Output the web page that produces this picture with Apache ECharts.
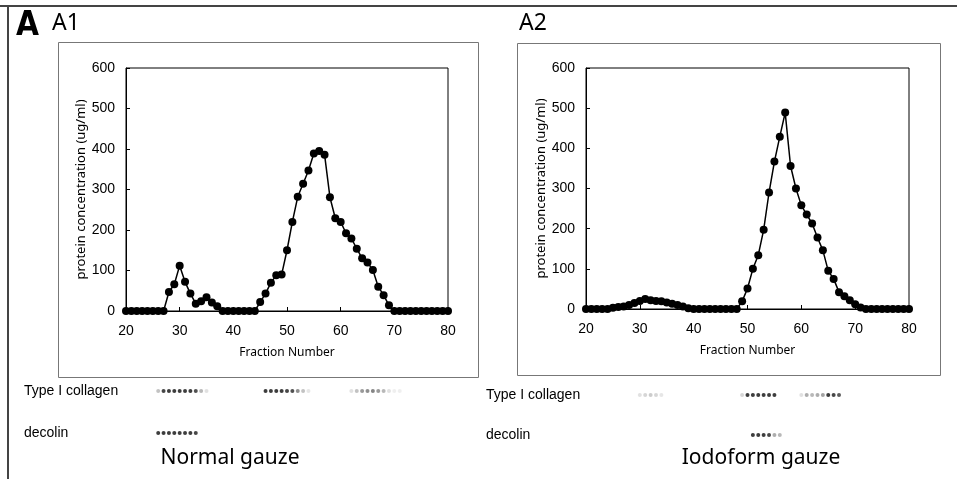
<!DOCTYPE html>
<html>
<head>
<meta charset="utf-8">
<title>Fraction chart</title>
<script src="https://cdn.jsdelivr.net/npm/echarts@6/dist/echarts.min.js"></script>
<style>
    html, body {
        margin: 0;
        padding: 0;
        background: #ffffff;
    }
    #chart {
        width: 958px;
        height: 479px;
    }
</style>
</head>
<body>
<div id="chart"></div>
<script>
    // fraction numbers on the x axis
    const fractions = [20, 21, 22, 23, 24, 25, 26, 27, 28, 29, 30, 31, 32, 33, 34, 35, 36, 37, 38, 39, 40,
        41, 42, 43, 44, 45, 46, 47, 48, 49, 50, 51, 52, 53, 54, 55, 56, 57, 58, 59, 60,
        61, 62, 63, 64, 65, 66, 67, 68, 69, 70, 71, 72, 73, 74, 75, 76, 77, 78, 79, 80]

    // A1 - normal gauze, protein concentration (ug/ml)
    const normalGauze = [0, 0, 0, 0, 0, 0, 0, 0, 47, 66, 112, 72, 43, 18, 24, 34, 21, 12, 0, 0, 0,
        0, 0, 0, 0, 22, 43, 70, 88, 90, 150, 220, 282, 314, 347, 389, 395, 386, 281, 229, 220,
        192, 179, 154, 130, 120, 101, 60, 39, 14, 0, 0, 0, 0, 0, 0, 0, 0, 0, 0, 0]

    // A2 - iodoform gauze, protein concentration (ug/ml)
    const iodoformGauze = [0, 0, 0, 0, 0, 3, 5, 6, 10, 15, 20, 25, 22, 20, 19, 16, 13, 10, 6, 2, 0,
        0, 0, 0, 0, 0, 0, 0, 0, 19, 51, 100, 134, 197, 290, 367, 429, 489, 356, 300, 258,
        235, 213, 178, 146, 95, 75, 42, 32, 22, 12, 4, 0, 0, 0, 0, 0, 0, 0, 0, 0]

    const yTicks = [0, 100, 200, 300, 400, 500, 600]
    const xTicks = [20, 30, 40, 50, 60, 70, 80]

    // blot rows under each chart: [fraction, row, band intensity 0..1]
    const blotRows = ['Type I collagen', 'decolin']
    const normalBands = [
        [26, 'Type I collagen', 0.3], [27, 'Type I collagen', 0.9], [28, 'Type I collagen', 0.95], [29, 'Type I collagen', 0.95],
        [30, 'Type I collagen', 0.95], [31, 'Type I collagen', 0.95], [32, 'Type I collagen', 0.95], [33, 'Type I collagen', 0.85],
        [34, 'Type I collagen', 0.35], [35, 'Type I collagen', 0.15],
        [46, 'Type I collagen', 0.95], [47, 'Type I collagen', 0.95], [48, 'Type I collagen', 0.95], [49, 'Type I collagen', 0.95],
        [50, 'Type I collagen', 0.9], [51, 'Type I collagen', 0.85], [52, 'Type I collagen', 0.55], [53, 'Type I collagen', 0.3],
        [54, 'Type I collagen', 0.12],
        [62, 'Type I collagen', 0.15], [63, 'Type I collagen', 0.3], [64, 'Type I collagen', 0.5], [65, 'Type I collagen', 0.55],
        [66, 'Type I collagen', 0.6], [67, 'Type I collagen', 0.5], [68, 'Type I collagen', 0.35], [69, 'Type I collagen', 0.15],
        [70, 'Type I collagen', 0.08], [71, 'Type I collagen', 0.08],
        [26, 'decolin', 0.95], [27, 'decolin', 0.95], [28, 'decolin', 0.95], [29, 'decolin', 0.95],
        [30, 'decolin', 0.95], [31, 'decolin', 0.95], [32, 'decolin', 0.95], [33, 'decolin', 0.9]
    ]
    const iodoformBands = [
        [30, 'Type I collagen', 0.15], [31, 'Type I collagen', 0.2], [32, 'Type I collagen', 0.25], [33, 'Type I collagen', 0.2],
        [34, 'Type I collagen', 0.12],
        [49, 'Type I collagen', 0.2], [50, 'Type I collagen', 0.95], [51, 'Type I collagen', 0.95], [52, 'Type I collagen', 0.95],
        [53, 'Type I collagen', 0.95], [54, 'Type I collagen', 0.95], [55, 'Type I collagen', 0.95],
        [60, 'Type I collagen', 0.15], [61, 'Type I collagen', 0.4], [62, 'Type I collagen', 0.35], [63, 'Type I collagen', 0.4],
        [64, 'Type I collagen', 0.45], [65, 'Type I collagen', 0.95], [66, 'Type I collagen', 0.9], [67, 'Type I collagen', 0.8],
        [51, 'decolin', 0.95], [52, 'decolin', 0.95], [53, 'decolin', 0.95], [54, 'decolin', 0.9],
        [55, 'decolin', 0.4], [56, 'decolin', 0.35]
    ]

    const pairs = (values) => fractions.map((f, i) => [f, values[i]])
    const bandColor = (p) => {
        const g = Math.round(255 * (1 - p.value[2]))
        return 'rgb(' + g + ',' + g + ',' + g + ')'
    }

    const chart = echarts.init(document.getElementById('chart'))

    const valueAxisY = (gridIndex) => ({
        type: 'value',
        gridIndex: gridIndex,
        min: yTicks[0],
        max: yTicks[yTicks.length - 1],
        interval: yTicks[1] - yTicks[0],
        name: 'protein concentration (ug/ml)',
        nameLocation: 'middle',
        nameGap: 35,
        nameTextStyle: {color: '#000', fontSize: 13, fontFamily: 'Noto Sans'},
        axisLine: {show: true, lineStyle: {color: '#000', width: 1}},
        axisTick: {show: true, inside: true, length: 4, lineStyle: {color: '#000'}},
        axisLabel: {color: '#000', fontSize: 14, margin: 11, fontFamily: 'Liberation Sans'},
        splitLine: {show: false}
    })

    const valueAxisX = (gridIndex) => ({
        type: 'value',
        gridIndex: gridIndex,
        min: xTicks[0],
        max: xTicks[xTicks.length - 1],
        interval: xTicks[1] - xTicks[0],
        name: 'Fraction Number',
        nameLocation: 'middle',
        nameGap: 36,
        nameTextStyle: {color: '#000', fontSize: 12, fontFamily: 'Noto Sans'},
        axisLine: {show: true, onZero: false, lineStyle: {color: '#000', width: 1}},
        axisTick: {show: true, inside: true, length: 4, lineStyle: {color: '#000'}},
        axisLabel: {color: '#000', fontSize: 14, margin: 13, fontFamily: 'Liberation Sans'},
        splitLine: {show: false}
    })

    const bandAxisX = (gridIndex) => ({
        type: 'value',
        gridIndex: gridIndex,
        min: xTicks[0],
        max: xTicks[xTicks.length - 1],
        show: false
    })

    const bandAxisY = (gridIndex, margin) => ({
        type: 'category',
        gridIndex: gridIndex,
        data: blotRows,
        inverse: true,
        axisLine: {show: false},
        axisTick: {show: false},
        axisLabel: {color: '#000', fontSize: 14, align: 'left', margin: margin, fontFamily: 'Liberation Sans'},
        splitLine: {show: false}
    })

    const curve = (values, idx) => ({
        type: 'line',
        xAxisIndex: idx,
        yAxisIndex: idx,
        data: pairs(values),
        symbol: 'circle',
        symbolSize: 8,
        lineStyle: {color: '#000', width: 1.5},
        itemStyle: {color: '#000'},
        animation: false
    })

    const bands = (data, idx) => ({
        type: 'scatter',
        xAxisIndex: idx,
        yAxisIndex: idx,
        data: data,
        encode: {x: 0, y: 1},
        symbolSize: 4,
        itemStyle: {color: bandColor},
        animation: false
    })

    const titleStyle = {color: '#000', fontWeight: 'normal', fontFamily: 'Noto Sans'}

    const option = {
        backgroundColor: '#fff',
        title: [
            {text: 'A', left: 16, top: 10, padding: 0,
                textStyle: {color: '#000', fontSize: 33, fontWeight: 'bold', fontFamily: 'DejaVu Sans Condensed'}},
            {text: 'A1', left: 52, top: 12, padding: 0, textStyle: Object.assign({fontSize: 23}, titleStyle)},
            {text: 'A2', left: 519, top: 12, padding: 0, textStyle: Object.assign({fontSize: 23}, titleStyle)},
            {text: 'Normal gauze', left: 230, textAlign: 'center', top: 448, padding: 0,
                textStyle: Object.assign({fontSize: 21}, titleStyle)},
            {text: 'Iodoform gauze', left: 761, textAlign: 'center', top: 448, padding: 0,
                textStyle: Object.assign({fontSize: 21}, titleStyle)}
        ],
        grid: [
            {left: 126, right: 510, top: 68, bottom: 168, show: true, borderColor: '#000', borderWidth: 1, outerBoundsMode: 'none'},
            {left: 586, right: 49, top: 68, bottom: 170, show: true, borderColor: '#000', borderWidth: 1, outerBoundsMode: 'none'},
            {left: 126, right: 510, top: 370, height: 84, outerBoundsMode: 'none'},
            {left: 586, right: 49, top: 375, height: 80, outerBoundsMode: 'none'}
        ],
        xAxis: [valueAxisX(0), valueAxisX(1), bandAxisX(2), bandAxisX(3)],
        yAxis: [valueAxisY(0), valueAxisY(1), bandAxisY(2, 102), bandAxisY(3, 100)],
        series: [
            curve(normalGauze, 0),
            curve(iodoformGauze, 1),
            bands(normalBands, 2),
            bands(iodoformBands, 3)
        ],
        graphic: [
            // figure frame and panel boxes
            {type: 'line', shape: {x1: 0, y1: 6, x2: 957, y2: 6}, style: {stroke: '#444', lineWidth: 2}, silent: true},
            {type: 'line', shape: {x1: 8, y1: 6, x2: 8, y2: 479}, style: {stroke: '#444', lineWidth: 2}, silent: true},
            {type: 'rect', shape: {x: 58.5, y: 42.5, width: 420, height: 335}, style: {fill: null, stroke: '#777', lineWidth: 1}, silent: true, z: -1},
            {type: 'rect', shape: {x: 517.5, y: 43.5, width: 423, height: 332}, style: {fill: null, stroke: '#777', lineWidth: 1}, silent: true, z: -1}
        ]
    }

    chart.setOption(option)
</script>
</body>
</html>
